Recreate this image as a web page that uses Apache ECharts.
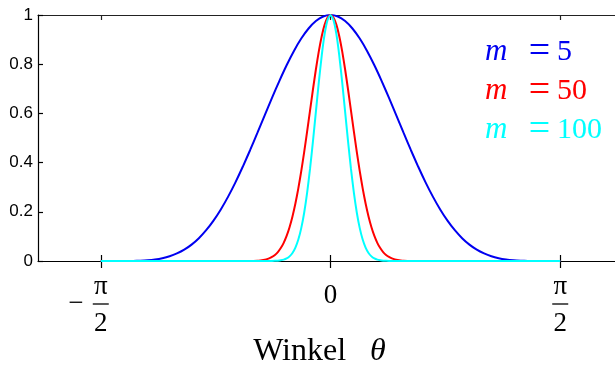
<!DOCTYPE html>
<html>
<head>
<meta charset="utf-8">
<script src="https://cdn.jsdelivr.net/npm/echarts@6/dist/echarts.min.js"></script>
<style>
  html, body { margin: 0; padding: 0; background: #fff; }
  #chart { width: 615px; height: 367px; }
</style>
</head>
<body>
<div id="chart"></div>
<script>
// angle samples (rad) and curve heights
const thetaWide = [-1.5708, -1.45, -1.4, -1.35, -1.3, -1.25, -1.2, -1.15, -1.1, -1.05, -1, -0.95, -0.9, -0.85, -0.8, -0.75, -0.7, -0.65, -0.6, -0.55, -0.5, -0.45, -0.4, -0.35, -0.3, -0.25, -0.2, -0.15, -0.1, -0.05,
  0, 0.05, 0.1, 0.15, 0.2, 0.25, 0.3, 0.35, 0.4, 0.45, 0.5, 0.55, 0.6, 0.65, 0.7, 0.75, 0.8, 0.85, 0.9, 0.95, 1, 1.05, 1.1, 1.15, 1.2, 1.25, 1.3, 1.35, 1.4, 1.45, 1.5708];
const m5 = [0, 0, 0.0001, 0.0005, 0.0014, 0.0031, 0.0063, 0.0114, 0.0192, 0.0307, 0.0460, 0.0666, 0.0928, 0.1252, 0.1642, 0.2097, 0.2617, 0.3197, 0.3830, 0.4503, 0.5205, 0.5920, 0.6629, 0.7315, 0.7958, 0.8539, 0.9042, 0.9451, 0.9753, 0.9938,
  1, 0.9938, 0.9753, 0.9451, 0.9042, 0.8539, 0.7958, 0.7315, 0.6629, 0.5920, 0.5205, 0.4503, 0.3830, 0.3197, 0.2617, 0.2097, 0.1642, 0.1252, 0.0928, 0.0666, 0.0460, 0.0307, 0.0192, 0.0114, 0.0063, 0.0031, 0.0014, 0.0005, 0.0001, 0, 0];

const thetaNarrow = [-1.5708, -0.6, -0.55, -0.5, -0.48, -0.46, -0.44, -0.42, -0.4, -0.38, -0.36, -0.34, -0.32, -0.3, -0.28, -0.26, -0.24, -0.22, -0.2, -0.18, -0.16, -0.14, -0.12, -0.1, -0.08, -0.06, -0.04, -0.02,
  0, 0.02, 0.04, 0.06, 0.08, 0.1, 0.12, 0.14, 0.16, 0.18, 0.2, 0.22, 0.24, 0.26, 0.28, 0.3, 0.32, 0.34, 0.36, 0.38, 0.4, 0.42, 0.44, 0.46, 0.48, 0.5, 0.55, 0.6, 1.5708];
const m50 = [0, 0.0001, 0.0003, 0.0015, 0.0025, 0.0041, 0.0067, 0.0106, 0.0164, 0.0247, 0.0364, 0.0525, 0.0739, 0.1018, 0.1372, 0.1810, 0.2336, 0.2953, 0.3654, 0.4429, 0.5258, 0.6117, 0.6971, 0.7785, 0.8520, 0.9139, 0.9608, 0.9900,
  1, 0.9900, 0.9608, 0.9139, 0.8520, 0.7785, 0.6971, 0.6117, 0.5258, 0.4429, 0.3654, 0.2953, 0.2336, 0.1810, 0.1372, 0.1018, 0.0739, 0.0525, 0.0364, 0.0247, 0.0164, 0.0106, 0.0067, 0.0041, 0.0025, 0.0015, 0.0003, 0.0001, 0];
const m100 = [0, 0, 0, 0, 0, 0, 0, 0.0001, 0.0003, 0.0006, 0.0013, 0.0028, 0.0055, 0.0104, 0.0188, 0.0328, 0.0546, 0.0872, 0.1335, 0.1962, 0.2765, 0.3742, 0.4859, 0.6061, 0.7259, 0.8352, 0.9231, 0.9801,
  1, 0.9801, 0.9231, 0.8352, 0.7259, 0.6061, 0.4859, 0.3742, 0.2765, 0.1962, 0.1335, 0.0872, 0.0546, 0.0328, 0.0188, 0.0104, 0.0055, 0.0028, 0.0013, 0.0006, 0.0003, 0.0001, 0, 0, 0, 0, 0, 0, 0];

const thetaTicks = [-1.5708, 0, 1.5708];
const tickLabels = ['-pi/2', '0', 'pi/2'];
const mNames = ['m = 5', 'm = 50', 'm = 100'];
const mNums = ['5', '50', '100'];
const colors = ['#0000f0', '#ff0000', '#00ffff'];

const serif = "'Liberation Serif', 'Times New Roman', serif";

// fraction-style tick labels, built with rich text
const fracRich = {
  n: { fontFamily: serif, fontSize: 27, width: 30, align: 'center', lineHeight: 22, color: '#000' },
  s: { width: 22 },
  t: { width: 22 },
  mi: { fontFamily: serif, fontSize: 27, width: 24, align: 'center', lineHeight: 10, color: '#000' },
  g: { width: 5 },
  bar: { width: 16, height: 1.3, backgroundColor: '#000', lineHeight: 10 },
  t2: { width: 29 },
  b7: { width: 7 },
  d: { fontFamily: serif, fontSize: 27, width: 30, align: 'center', lineHeight: 28, color: '#000' },
  z: { fontFamily: serif, fontSize: 27, lineHeight: 40, color: '#000' }
};

function fmtTick(v) {
  const i = thetaTicks.indexOf(v);
  const lab = tickLabels[i];
  if (lab === '-pi/2') return '{s|}{n|π}{t|}\n{mi|−}{g|}{bar|}{t2|}\n{s|}{d|2}{t|}';
  if (lab === 'pi/2') return '{n|π}\n{b7|}{bar|}{b7|}\n{d|2}';
  return '{z|0}';
}

const chart = echarts.init(document.getElementById('chart'), null, { renderer: 'canvas' });

const option = {
  animation: false,
  backgroundColor: '#fff',
  grid: { left: 38, top: 15, right: -8, bottom: 106, containLabel: false, outerBoundsMode: 'none' },
  legend: {
    orient: 'vertical',
    left: 485,
    top: 33,
    padding: 0,
    itemGap: 1,
    itemWidth: 0,
    itemHeight: 0,
    icon: 'rect',
    selectedMode: false,
    data: mNames.map((n, i) => ({ name: n, textStyle: { color: colors[i], fontFamily: serif, fontSize: 30 } })),
    formatter: name => '{i|m}{e|=}{v|' + mNums[mNames.indexOf(name)] + '}',
    textStyle: {
      fontFamily: serif,
      fontSize: 30,
      lineHeight: 30,
      padding: [0, 0, 0, -5],
      rich: {
        i: { fontStyle: 'italic', fontWeight: 'normal', width: 37, fontFamily: serif, fontSize: 31, lineHeight: 30 },
        e: { fontStyle: 'normal', fontWeight: 'normal', width: 35, align: 'center', fontFamily: serif, fontSize: 38, lineHeight: 30 },
        v: { fontStyle: 'normal', fontWeight: 'normal', fontFamily: serif, fontSize: 30, lineHeight: 30 }
      }
    }
  },
  xAxis: [
    {
      type: 'value',
      position: 'bottom',
      min: -2,
      max: 2,
      splitLine: { show: false },
      axisLine: { onZero: false, lineStyle: { color: '#000', width: 1.2 } },
      axisTick: { inside: false, length: 7, customValues: thetaTicks, lineStyle: { color: '#000', width: 1.2 } },
      axisLabel: {
        customValues: thetaTicks,
        margin: 15,
        formatter: fmtTick,
        rich: fracRich
      },
      name: '{w|Winkel}{sp|}{th|θ}',
      nameLocation: 'middle',
      nameGap: 74,
      nameMoveOverlap: false,
      nameTextStyle: {
        padding: [0, 22, 0, 0],
        rich: {
          w: { fontFamily: serif, fontSize: 32, color: '#000', lineHeight: 34 },
          sp: { width: 24 },
          th: { fontFamily: serif, fontSize: 32, fontStyle: 'italic', color: '#000', lineHeight: 34 }
        }
      }
    },
    {
      type: 'value',
      position: 'bottom',
      min: -2,
      max: 2,
      splitLine: { show: false },
      axisLine: { show: false, onZero: false },
      axisTick: { inside: true, length: 6, customValues: thetaTicks, lineStyle: { color: '#000', width: 1.2 } },
      axisLabel: { show: false }
    },
    {
      type: 'value',
      position: 'top',
      min: -2,
      max: 2,
      splitLine: { show: false },
      axisLine: { onZero: false, lineStyle: { color: '#222', width: 1.2 } },
      axisTick: { inside: true, length: 5, customValues: thetaTicks, lineStyle: { color: '#222', width: 1.2 } },
      axisLabel: { show: false }
    }
  ],
  yAxis: {
    type: 'value',
    min: 0,
    max: 1,
    interval: 0.2,
    splitLine: { show: false },
    axisLine: { show: true, onZero: false, lineStyle: { color: '#000', width: 1.2 } },
    axisTick: { show: true, inside: true, length: 5, lineStyle: { color: '#000', width: 1.2 } },
    axisLabel: { margin: 5, color: '#000', fontFamily: 'Liberation Sans', fontSize: 17 }
  },
  series: [
    {
      name: mNames[0], type: 'line', xAxisIndex: 0, showSymbol: false, smooth: 0.2,
      lineStyle: { color: colors[0], width: 2 }, itemStyle: { color: colors[0] },
      data: thetaWide.map((t, i) => [t, m5[i]])
    },
    {
      name: mNames[1], type: 'line', xAxisIndex: 0, showSymbol: false, smooth: 0.2,
      lineStyle: { color: colors[1], width: 2 }, itemStyle: { color: colors[1] },
      data: thetaNarrow.map((t, i) => [t, m50[i]])
    },
    {
      name: mNames[2], type: 'line', xAxisIndex: 0, showSymbol: false, smooth: 0.2,
      lineStyle: { color: colors[2], width: 2 }, itemStyle: { color: colors[2] },
      data: thetaNarrow.map((t, i) => [t, m100[i]])
    }
  ]
};

chart.setOption(option);
</script>
</body>
</html>
